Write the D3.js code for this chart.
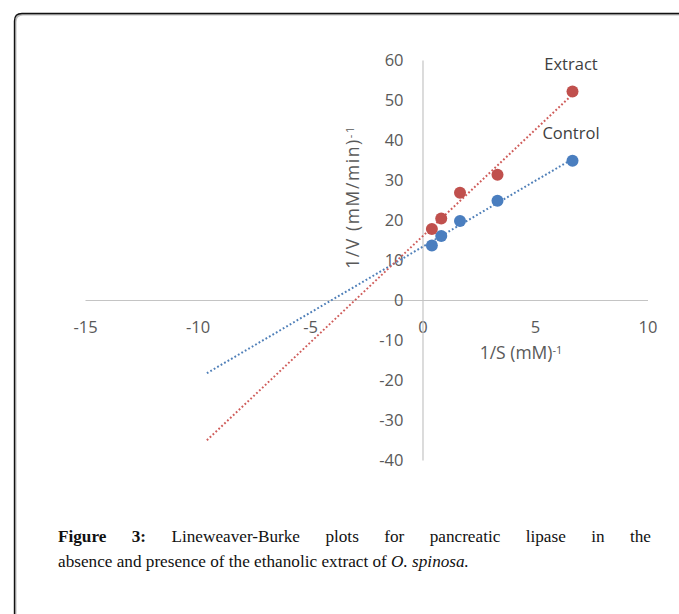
<!DOCTYPE html>
<html>
<head>
<meta charset="utf-8">
<script src="https://cdn.jsdelivr.net/npm/d3@7"></script>
<style>
  html, body { margin: 0; padding: 0; background: #fff; }
  svg { display: block; }
</style>
</head>
<body>
<svg id="chart" width="679" height="614"></svg>
<script>
// ---- data ----
const invS = [0.417, 0.833, 1.667, 3.333, 6.667];          // 1/S (mM)^-1
const controlInvV = [13.6, 16.0, 19.75, 24.8, 34.8];       // 1/V Control
const extractInvV = [17.75, 20.4, 26.8, 31.3, 52.1];       // 1/V Extract
const seriesNames = ["Control", "Extract"];
const xTicks = [-15, -10, -5, 0, 5, 10];
const yTicks = [-40, -30, -20, -10, 0, 10, 20, 30, 40, 50, 60];
const backwardForecast = 10;
const xTitle = "1/S (mM)";
const yTitle = "1/V (mM/min)";
const captionLine1 = ["Figure", "3:", "Lineweaver-Burke", "plots", "for", "pancreatic", "lipase", "in", "the"];
const captionLine2a = "absence and presence of the ethanolic extract of ";
const captionLine2b = "O. spinosa.";

const svg = d3.select("#chart");
const tickFont = "'Open Sans', sans-serif";
const grey = "#595959";
const fmt = d => String(d);

// frame
svg.append("path")
  .attr("d", "M15.5,620 L15.5,22 Q15.5,14.5 23,14.5 L690,14.5")
  .attr("fill", "none").attr("stroke", "#bbb").attr("stroke-width", 2);
svg.append("path")
  .attr("d", "M14.5,620 L14.5,21 Q14.5,13.5 22,13.5 L690,13.5")
  .attr("fill", "none").attr("stroke", "#111").attr("stroke-width", 1.4);

const x = d3.scaleLinear().domain([-15, 10]).range([85, 647.5]);
const y = d3.scaleLinear().domain([-40, 60]).range([460, 60]);

// axes
const xAxis = svg.append("g")
  .attr("transform", `translate(0,${y(0)})`)
  .call(d3.axisBottom(x).tickValues(xTicks).tickSize(0).tickSizeOuter(0).tickPadding(21).tickFormat(fmt));
const yAxis = svg.append("g")
  .attr("transform", `translate(${x(0)},0)`)
  .call(d3.axisLeft(y).tickValues(yTicks).tickSize(0).tickSizeOuter(0).tickPadding(19).tickFormat(fmt));
[xAxis, yAxis].forEach(g => {
  g.select(".domain").attr("stroke", "#c4c4c4").attr("stroke-width", 1.2);
  g.selectAll("text").attr("fill", grey).style("font-family", tickFont).style("font-size", "16.5px");
});
xAxis.selectAll("text").attr("dy", "0.71em");

// regression
function fit(xs, ys) {
  const mx = d3.mean(xs), my = d3.mean(ys);
  const sxy = d3.sum(xs, (v, i) => (v - mx) * (ys[i] - my));
  const sxx = d3.sum(xs, v => (v - mx) * (v - mx));
  const b = sxy / sxx;
  return { b, a: my - b * mx };
}

const series = [
  { name: seriesNames[0], ys: controlInvV, color: "#4a7ebf", line: "#4f7fb8" },
  { name: seriesNames[1], ys: extractInvV, color: "#c0504d", line: "#cf5c5a" }
];

const x0 = d3.min(invS) - backwardForecast, x1 = d3.max(invS);
series.forEach(s => {
  const f = fit(invS, s.ys);
  svg.append("line")
    .attr("x1", x(x0)).attr("y1", y(f.a + f.b * x0))
    .attr("x2", x(x1)).attr("y2", y(f.a + f.b * x1))
    .attr("stroke", s.line).attr("stroke-width", 2)
    .attr("stroke-dasharray", "1.8 2.2");
});
series.forEach(s => {
  svg.append("g").selectAll("circle")
    .data(invS.map((v, i) => [v, s.ys[i]]))
    .join("circle")
    .attr("cx", d => x(d[0])).attr("cy", d => y(d[1]))
    .attr("r", 6).attr("fill", s.color);
});

// series labels
svg.append("text").attr("x", 571).attr("y", 70).attr("text-anchor", "middle")
  .attr("fill", "#404040").style("font-family", tickFont).style("font-size", "16.5px").text(seriesNames[1]);
svg.append("text").attr("x", 571).attr("y", 139).attr("text-anchor", "middle")
  .attr("fill", "#404040").style("font-family", tickFont).style("font-size", "16.5px").text(seriesNames[0]);

// axis titles
const xt = svg.append("text").attr("x", 521).attr("y", 359).attr("text-anchor", "middle")
  .attr("fill", grey).style("font-family", tickFont).style("font-size", "17.5px");
xt.append("tspan").text(xTitle);
xt.append("tspan").attr("dy", "-0.45em").style("font-size", "11px").text("-1");

const yt = svg.append("text").attr("transform", "translate(359,197) rotate(-90)").attr("text-anchor", "middle")
  .attr("fill", grey).style("font-family", tickFont).style("font-size", "17.5px").style("letter-spacing", "1.6px");
yt.append("tspan").text(yTitle);
yt.append("tspan").attr("dy", "-0.45em").style("font-size", "11px").text("-1");

// caption
const capFont = "'Liberation Serif', 'Times New Roman', serif";
const capSize = "17.2px";
const left = 58, right = 651;
const words = captionLine1.map((w, i) => {
  const t = svg.append("text").attr("y", 542).attr("fill", "#111")
    .style("font-family", capFont).style("font-size", capSize)
    .style("font-weight", i < 2 ? "bold" : "normal").text(w);
  return { t, w: t.node().getComputedTextLength() };
});
const total = d3.sum(words, d => d.w);
const gap = (right - left - total) / (words.length - 1);
let cx = left;
words.forEach(d => { d.t.attr("x", cx); cx += d.w + gap; });

const l2 = svg.append("text").attr("x", left).attr("y", 567).attr("fill", "#111")
  .style("font-family", capFont).style("font-size", capSize);
l2.append("tspan").text(captionLine2a);
l2.append("tspan").style("font-style", "italic").text(captionLine2b);
</script>
</body>
</html>
